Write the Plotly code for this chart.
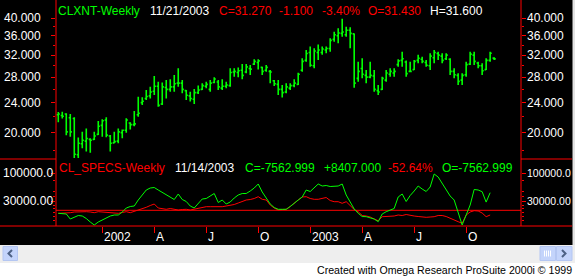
import math
import pandas as pd
import plotly.graph_objects as go

# ---------------- data ----------------
dates = pd.date_range("2001-10-19", periods=110, freq="7D")

opens = [22.3,22.2,22.4,21.9,21.8,17.5,18.7,19.0,19.2,19.2,
         19.8,20.9,21.6,19.6,18.8,19.0,20.0,20.3,21.2,21.0,
         22.3,24.0,24.6,25.0,25.7,26.5,23.8,26.3,26.0,26.4,
         27.0,27.0,25.8,25.0,24.5,25.5,26.0,26.5,26.0,27.1,
         27.2,26.2,26.5,26.6,28.9,28.8,29.2,28.9,29.5,30.3,
         30.6,29.7,29.2,29.0,27.4,26.8,26.0,25.6,26.2,26.6,
         26.8,29.2,31.0,32.5,30.0,32.5,32.5,33.0,33.3,35.2,
         36.0,36.5,36.2,37.2,36.4,27.8,29.5,28.3,28.0,28.2,
         25.8,26.0,27.5,28.5,28.7,30.2,31.0,30.7,29.0,29.3,
         31.0,31.2,30.6,30.0,31.5,32.3,31.8,31.3,31.2,29.0,
         28.3,27.5,28.4,30.3,32.0,30.5,30.0,29.3,31.0,31.43]
highs = [22.66,22.7,22.5,22.4,21.95,19.43,20.1,20.5,19.33,20.1,
         21.45,21.7,21.95,19.72,20.1,20.5,20.4,21.81,21.3,22.8,
         24.87,24.8,25.9,26.43,28.2,27.24,27.1,27.52,27.63,28.37,
         29.53,27.52,25.9,25.64,26.06,26.6,26.98,27.24,27.52,27.97,
         27.52,27.63,27.24,29.53,29.53,29.7,30.3,30.3,30.14,31.2,
         31.2,29.83,30.14,29.24,27.52,27.52,26.7,26.98,26.98,27.63,
         28.76,31.39,33.03,33.69,33.36,34.15,33.69,33.69,35.42,36.88,
         37.64,39.9,38.0,37.86,36.5,30.75,31.39,29.24,30.75,29.24,
         26.7,28.08,29.24,29.53,29.53,31.2,32.67,30.95,30.75,31.07,
         32.05,31.7,31.07,32.37,33.03,32.67,32.37,32.37,31.39,29.53,
         28.66,28.66,30.75,32.67,32.67,30.75,30.45,31.39,32.67,31.6]
lows = [21.3,21.8,19.7,19.5,17.05,17.05,18.2,17.85,17.72,19.13,
        19.72,19.52,19.45,17.85,18.75,18.75,19.33,20.0,20.4,20.8,
        22.03,23.65,24.38,24.62,25.13,23.41,23.65,24.62,25.64,25.64,
        26.43,25.39,24.38,24.14,23.8,25.28,25.9,26.17,25.64,26.98,
        25.9,25.9,26.17,26.43,28.08,27.97,27.63,28.66,28.37,30.14,
        29.35,28.37,28.93,26.98,26.55,25.13,24.75,25.39,25.9,26.33,
        26.7,28.93,30.75,29.83,29.53,31.07,32.05,32.37,32.67,34.71,
        34.36,35.77,35.77,33.36,26.27,27.24,27.81,26.98,27.81,25.64,
        25.13,25.9,27.24,28.08,28.08,29.83,29.83,28.08,28.93,29.24,
        30.45,30.45,29.83,29.24,30.45,31.07,30.45,31.07,28.37,27.81,
        26.7,26.7,28.08,30.14,30.14,29.53,28.37,29.24,30.75,31.05]
closes = [22.4,22.1,20.1,20.1,17.55,18.75,19.1,19.3,19.1,19.6,
          20.8,21.5,19.7,18.75,18.94,20.1,20.3,21.6,21.0,21.1,
          22.5,24.2,24.9,25.6,26.5,23.6,26.4,26.0,26.4,26.9,
          27.0,26.0,25.1,24.6,25.5,25.9,26.6,26.8,27.0,27.7,
          26.4,26.5,26.7,28.8,29.0,29.1,28.3,29.8,29.4,30.8,
          30.9,29.0,29.7,28.9,26.9,26.0,25.5,26.4,26.6,27.0,
          28.5,30.8,32.3,30.1,32.8,33.0,33.2,33.3,35.0,36.2,
          36.6,36.8,37.2,36.5,27.0,29.0,28.5,28.0,28.3,26.0,
          25.6,27.8,28.7,29.0,29.0,30.9,31.3,28.6,29.0,30.8,
          31.4,30.8,30.1,31.8,32.5,32.0,31.0,32.0,29.0,28.4,
          27.3,28.3,30.2,32.2,30.8,30.0,29.1,31.0,32.37,31.27]

spec_green = [-750,-750,-2500,-15000,-10000,-6250,-7500,-13750,-22500,-30000,
              -22500,-17500,-12500,-7500,-5000,-5000,2500,12500,16250,17500,
              32500,45000,57500,62500,63750,57500,51250,45000,40000,33750,
              47500,33750,28750,17500,12500,25000,35000,36250,42500,48750,
              26250,32500,22500,27500,37500,45000,48750,48750,55000,62500,
              72500,52500,37500,22500,13750,9250,9250,9250,16250,25000,
              32500,40000,57500,53750,62500,72500,67500,68750,66250,67500,
              67500,72500,45000,27500,10000,-750,-8750,-9250,-11250,-15000,
              -21750,-2500,3250,7500,11250,40000,47500,28750,43750,55000,
              67500,60000,53750,65000,97500,90000,75000,57500,42500,32500,
              3250,-30000,-5000,20000,58750,57500,53250,27250,50750]
spec_red = [-750,-750,-750,750,2500,3250,3250,3250,2500,750,
            3250,2500,750,-750,-750,-750,1250,3250,750,3750,
            6750,11250,14250,18750,22500,12500,10000,9250,11250,9250,
            7500,8750,9250,7500,10000,11750,13750,15750,15750,15750,
            14250,15750,17500,18750,21250,25000,28750,32500,33750,36250,
            40750,34250,32500,20000,12500,7500,8750,9250,16250,25000,
            32500,40000,40750,36250,34250,34250,36750,38750,31250,28250,
            28250,24250,28250,18750,8750,3250,-6250,-7500,-10000,-15000,
            -19250,-9250,-9250,-8750,-7500,-5000,-6250,-3750,-6250,-7500,
            -8750,-10000,-10750,-10000,-9250,-6250,-6250,-8750,-13750,-17500,
            -21750,-25750,-5000,2500,5750,5000,0,-9250,-5000]
spec_ref = 6750

price_ticks = [40, 36, 32, 28, 24, 20]
price_tick_text = ["40.000", "36.000", "32.000", "28.000", "24.000", "20.000"]
price_minor = [38, 34, 30, 26, 22, 18]
spec_ticks = [100000, 30000]
spec_tick_text = ["100000.0", "30000.00"]
spec_minor = [82500, 55000, 42500, 20000, 11250, 2500, -7500, -17500]

quarter_dates = ["2002-01-04", "2002-04-05", "2002-07-05", "2002-10-04",
                 "2003-01-03", "2003-04-04", "2003-07-04", "2003-10-03"]
quarter_labels = ["2002", "A", "J", "O", "2003", "A", "J", "O"]

title1 = [("CLXNT-Weekly", 58, "#00ff00"), ("11/21/2003", 150, "#ffffff"),
          ("C=31.270", 219, "#ff0000"), ("-1.100", 279, "#ff0000"),
          ("-3.40%", 321.5, "#ff0000"), ("O=31.430", 368, "#ff0000"),
          ("H=31.600", 430, "#ffffff")]
title2 = [("CL_SPECS-Weekly", 59, "#ff0000"), ("11/14/2003", 175, "#ffffff"),
          ("C=-7562.999", 245, "#00ff00"), ("+8407.000", 324, "#00ff00"),
          ("-52.64%", 388, "#ff0000"), ("O=-7562.999", 441.5, "#00ff00")]
footer = "Created with Omega Research ProSuite 2000i \u00a9 1999"

# ---------------- layout helpers ----------------
W, H = 575, 277
FONT = "Liberation Sans, Arial, sans-serif"
RED = "#ff0000"
GREEN = "#00ff00"


def px(x):
    return x / W


def py(y):
    return 1 - y / H


fig = go.Figure()
fig.add_trace(go.Ohlc(
    x=dates, open=opens, high=highs, low=lows, close=closes,
    xaxis="x", yaxis="y", tickwidth=0.4,
    increasing=dict(line=dict(color=GREEN, width=1.6)),
    decreasing=dict(line=dict(color=GREEN, width=1.6)),
    hoverinfo="skip", showlegend=False))
fig.add_trace(go.Scatter(x=dates[:len(spec_red)], y=spec_red, xaxis="x", yaxis="y2",
                         mode="lines", line=dict(color=RED, width=1),
                         hoverinfo="skip", showlegend=False))
fig.add_trace(go.Scatter(x=dates[:len(spec_green)], y=spec_green, xaxis="x", yaxis="y2",
                         mode="lines", line=dict(color=GREEN, width=1),
                         hoverinfo="skip", showlegend=False))

axis_common = dict(showgrid=False, zeroline=False, showline=False,
                   mirror="ticks", ticks="outside", ticklen=4,
                   tickcolor=RED, tickwidth=1, showticklabels=False, fixedrange=True)

fig.update_layout(
    width=W, height=H, margin=dict(l=0, r=0, t=0, b=0),
    paper_bgcolor="#000000", plot_bgcolor="#000000",
    showlegend=False, hovermode=False,
    xaxis=dict(domain=[px(56), px(521)], type="date",
               range=["2001-10-15", "2004-01-07"], anchor="y2",
               rangeslider=dict(visible=False), showgrid=False, zeroline=False,
               showline=False, ticks="outside", ticklen=6, tickcolor=RED,
               tickmode="array", tickvals=quarter_dates, showticklabels=False,
               fixedrange=True),
    yaxis=dict(domain=[py(159), 1], type="log", anchor="x",
               range=[math.log10(17.05), math.log10(44.69)],
               tickmode="array", tickvals=price_ticks,
               minor=dict(tickmode="array", tickvals=price_minor, ticks="outside",
                          ticklen=2, tickcolor=RED, showgrid=False),
               **axis_common),
    yaxis2=dict(domain=[py(226), py(159)], anchor="x",
                range=[-32500, 135000], tickmode="array", tickvals=spec_ticks,
                minor=dict(tickmode="array", tickvals=spec_minor, ticks="outside",
                           ticklen=2, tickcolor=RED, showgrid=False),
                **axis_common),
)

shapes = []
# reference line in the lower pane
shapes.append(dict(type="line", xref="x domain", x0=0, x1=1, yref="y2",
                   y0=spec_ref, y1=spec_ref, line=dict(color=RED, width=1),
                   layer="below"))
# keep the pane boundary inside the plot area free of any line
shapes.append(dict(type="line", xref="paper", yref="paper", x0=px(56.8), x1=px(520.2),
                   y0=py(159), y1=py(159), line=dict(color="#000000", width=2),
                   layer="above"))
# vertical frame lines of the plot area
for xv in (56, 521):
    shapes.append(dict(type="line", xref="paper", yref="paper", x0=px(xv), x1=px(xv),
                       y0=py(226), y1=1, line=dict(color=RED, width=1)))
# bottom red line (full width)
shapes.append(dict(type="line", xref="paper", yref="paper", x0=0, x1=px(572),
                   y0=py(226), y1=py(226), line=dict(color=RED, width=1)))
# pane separators in the axis areas only
for xa, xb in [(0, 56), (521, 572)]:
    shapes.append(dict(type="line", xref="paper", yref="paper", x0=px(xa), x1=px(xb),
                       y0=py(159), y1=py(159), line=dict(color=RED, width=1)))
# right grey strip
shapes.append(dict(type="rect", xref="paper", yref="paper", x0=px(572.5), x1=1,
                   y0=py(245), y1=1, fillcolor="#e4e4e4", line=dict(width=0),
                   layer="above"))
# scrollbar band and footer
shapes.append(dict(type="rect", xref="paper", yref="paper", x0=0, x1=1,
                   y0=py(263), y1=py(245), fillcolor="#eeeeee", line=dict(width=0),
                   layer="above"))
shapes.append(dict(type="rect", xref="paper", yref="paper", x0=0, x1=1,
                   y0=0, y1=py(263), fillcolor="#ffffff", line=dict(width=0),
                   layer="above"))
for xa, xb in [(3, 17.5), (540, 555.5), (556.5, 572)]:
    shapes.append(dict(type="rect", xref="paper", yref="paper", x0=px(xa), x1=px(xb),
                       y0=py(260.5), y1=py(246.5), fillcolor="#c4d4fb",
                       line=dict(color="#b4c6f2", width=1), layer="above"))


def path(points):
    return "M " + " L ".join(f"{px(a):.5f},{py(b):.5f}" for a, b in points)


shapes.append(dict(type="path", xref="paper", yref="paper",
                   path=path([(12, 250), (8.5, 253.5), (12, 257)]),
                   line=dict(color="#4d6185", width=2), layer="above"))
shapes.append(dict(type="path", xref="paper", yref="paper",
                   path=path([(562, 250), (565.5, 253.5), (562, 257)]),
                   line=dict(color="#4d6185", width=2), layer="above"))
for gx in [544.5, 546.5, 548.5, 550.5]:
    shapes.append(dict(type="line", xref="paper", yref="paper", x0=px(gx), x1=px(gx),
                       y0=py(256.5), y1=py(250.5),
                       line=dict(color="#ffffff", width=1), layer="above"))
fig.update_layout(shapes=shapes)

ann = []
for txt, x, col in title1:
    ann.append(dict(text=txt, x=px(x - 2), y=py(11), xref="paper", yref="paper",
                    xanchor="left", yanchor="middle", showarrow=False,
                    font=dict(family=FONT, size=12, color=col)))
for txt, x, col in title2:
    ann.append(dict(text=txt, x=px(x - 2), y=py(167.5), xref="paper", yref="paper",
                    xanchor="left", yanchor="middle", showarrow=False,
                    font=dict(family=FONT, size=12, color=col)))
for v, t in zip(price_ticks, price_tick_text):
    for xl in (2, 525):
        ann.append(dict(text=t, x=px(xl), y=math.log10(v), xref="paper", yref="y",
                        xanchor="left", yanchor="middle", showarrow=False,
                        font=dict(family=FONT, size=12, color="#ffffff")))
for v, t in zip(spec_ticks, spec_tick_text):
    ann.append(dict(text=t, x=px(1), y=v, xref="paper", yref="y2",
                    xanchor="left", yanchor="middle", showarrow=False,
                    font=dict(family=FONT, size=12, color="#ffffff")))
    ann.append(dict(text=t, x=px(525), y=v, xref="paper", yref="y2",
                    xanchor="left", yanchor="middle", showarrow=False,
                    font=dict(family=FONT, size=10.5, color="#ffffff")))
for d, t in zip(quarter_dates, quarter_labels):
    ann.append(dict(text=t, x=d, y=py(236.5), xref="x", yref="paper",
                    xanchor="left", yanchor="middle", showarrow=False,
                    font=dict(family=FONT, size=12, color="#ffffff")))
ann.append(dict(text=footer, x=px(574), y=py(269.5), xref="paper", yref="paper",
                xanchor="right", yanchor="middle", showarrow=False,
                font=dict(family=FONT, size=10.6, color="#000000")))
fig.update_layout(annotations=ann)

fig.write_html("out.html", config={"displayModeBar": False})
